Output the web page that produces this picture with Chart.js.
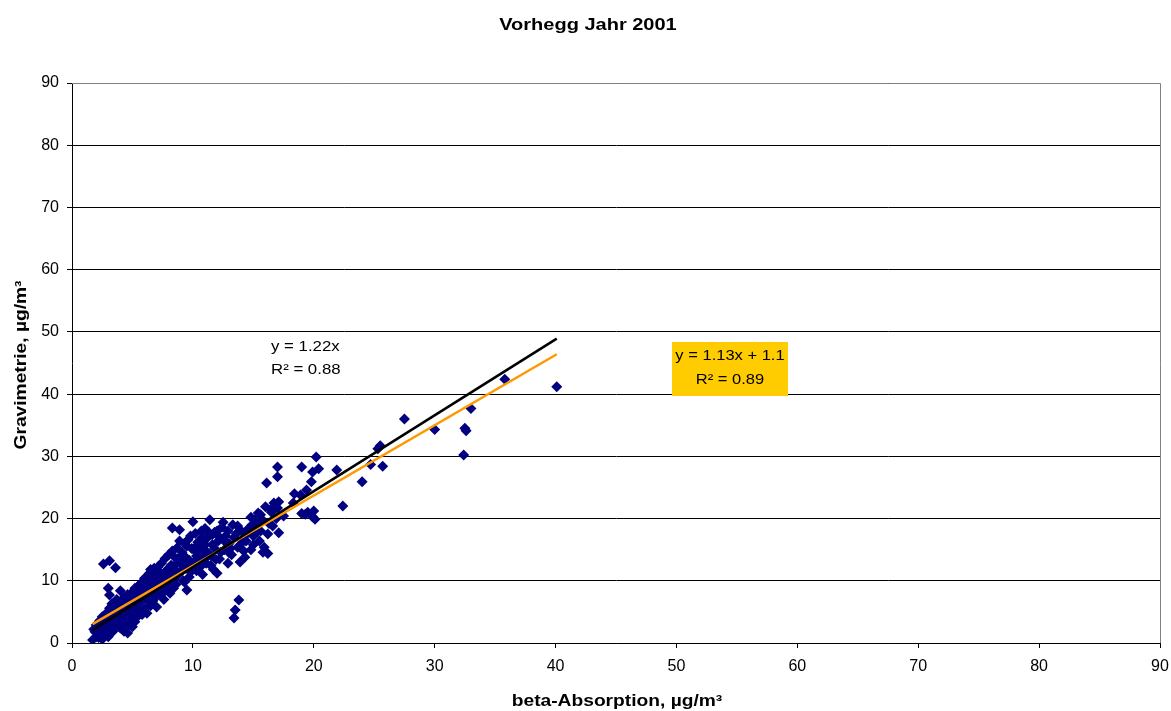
<!DOCTYPE html>
<html>
<head>
<meta charset="utf-8">
<script src="https://cdn.jsdelivr.net/npm/chart.js@4/dist/chart.umd.min.js"></script>
<style>
  html, body { margin: 0; padding: 0; background: #fff; }
  #wrap { width: 1171px; height: 711px; }
</style>
</head>
<body>
<div id="wrap"><canvas id="chart" width="1171" height="711"></canvas></div>
<script>
const chartTitle = "Vorhegg Jahr 2001";
const xTitle = "beta-Absorption, µg/m³";
const yTitle = "Gravimetrie, µg/m³";

// beta-Absorption (x) / Gravimetrie (y)
const betaAbs = [
  1.7, 2.0, 1.9, 2.2, 2.4, 2.1, 2.6, 2.3, 2.8, 2.5, 3.0, 2.7, 3.2, 2.9, 3.3, 3.1, 2.6, 3.1, 3.6, 3.0,
  3.1, 2.0, 1.8, 2.2, 3.4, 3.5, 3.6, 3.8, 3.9, 4.0, 4.1, 4.2, 4.3, 4.4, 4.6, 4.7, 4.5, 4.8, 4.9, 5.0,
  3.7, 3.3, 4.0, 4.4, 5.1, 5.2, 5.3, 5.4, 5.5, 5.6, 5.8, 5.9, 6.0, 6.1, 6.2, 6.3, 6.4, 6.5, 6.6, 6.7,
  6.8, 6.9, 7.0, 7.1, 7.2, 7.3, 7.4, 7.5, 7.6, 7.7, 7.8, 7.9, 8.0, 8.1, 8.2, 8.3, 8.4, 8.5, 8.6, 8.7,
  8.8, 8.9, 9.0, 9.1, 9.2, 9.3, 9.4, 9.5, 9.6, 9.7, 9.8, 9.9, 10.0, 10.1, 10.2, 10.3, 10.4, 10.5, 10.6, 10.7,
  10.8, 10.9, 11.0, 11.1, 11.2, 11.4, 11.5, 11.6, 11.7, 11.8, 12.0, 12.1, 12.2, 12.4, 12.5, 12.6, 12.7, 12.9, 13.0, 13.2,
  13.3, 13.4, 13.5, 13.8, 13.9, 13.6, 13.7, 14.0, 14.2, 14.4, 14.6, 14.8, 15.0, 15.2, 15.3, 15.4, 15.5, 15.6, 15.8, 16.0,
  16.1, 16.2, 16.3, 16.4, 16.2, 16.6, 17.0, 17.0, 17.1, 17.1, 17.5, 18.3, 18.9, 19.0, 19.3, 19.4, 19.8, 19.9, 20.0, 20.1,
  20.2, 20.4, 21.9, 22.4, 24.0, 24.7, 25.3, 25.5, 25.7, 27.5, 30.0, 32.4, 32.5, 32.6, 33.0, 35.8, 40.1,
  5.7, 6.0, 6.3, 6.6, 7.0, 7.3, 7.6, 7.9, 8.2, 8.5, 8.8, 9.1, 9.4, 9.7, 10.0, 10.3, 10.6, 10.9, 11.2, 11.5,
  11.8, 12.3, 5.2, 4.6, 4.2, 3.8, 3.4, 2.9, 2.4, 2.1, 3.6, 5.0, 5.5, 6.8, 7.2, 8.0, 8.6, 9.0, 4.8, 5.6,
  6.4, 7.8, 9.6, 10.2, 10.5, 11.0, 12.0, 14.8, 15.8, 16.5, 16.7, 17.0, 18.4, 19.0, 19.5, 19.9, 16.9, 15.0, 13.0, 14.3,
  2.3, 2.6, 2.9, 3.2, 3.5, 3.9, 4.1, 4.5, 4.8, 5.1, 5.4, 5.7, 6.0, 6.2, 6.5, 6.9, 7.1, 7.4, 7.7, 8.0,
  8.3, 8.6, 8.9, 9.2, 9.5, 9.8, 10.1, 10.4, 10.7, 11.0, 11.3, 11.6, 11.9, 12.2, 12.6, 12.9, 13.1, 13.4, 13.7, 14.1,
  14.5, 14.9, 15.3, 15.6, 15.9, 4.3, 5.0, 5.3, 3.0, 2.5, 6.7, 7.5, 8.4, 9.3, 10.8
];
const gravi = [
  0.5, 1.0, 1.8, 2.4, 1.6, 3.1, 2.0, 3.6, 2.7, 4.2, 3.3, 1.4, 2.2, 4.9, 3.8, 5.6, 12.7, 13.2, 12.1, 8.8,
  7.7, 2.9, 2.2, 0.9, 1.9, 2.8, 4.5, 3.2, 6.1, 2.4, 5.2, 3.8, 7.3, 4.6, 1.6, 2.9, 6.4, 5.5, 8.0, 4.2,
  7.0, 6.3, 8.4, 3.1, 6.9, 3.4, 7.8, 5.6, 9.2, 6.5, 4.6, 8.3, 10.4, 7.2, 4.8, 9.0, 11.2, 6.0, 8.2, 10.1,
  12.0, 7.4, 5.8, 9.6, 11.5, 8.6, 12.8, 10.5, 7.0, 13.6, 9.0, 11.8, 14.2, 8.0, 12.5, 18.5, 10.2, 13.8, 9.4, 15.3,
  11.0, 18.2, 12.7, 14.6, 10.0, 16.0, 12.0, 8.5, 16.6, 13.3, 11.4, 15.2, 19.5, 13.0, 14.8, 11.6, 16.2, 13.8, 15.6, 12.4,
  17.0, 14.3, 15.8, 12.8, 16.9, 19.8, 14.0, 17.4, 11.8, 15.2, 11.2, 16.4, 13.5, 18.6, 19.4, 15.0, 17.2, 12.8, 16.0, 14.2,
  19.0, 4.0, 5.3, 6.9, 13.0, 17.6, 15.4, 18.0, 14.8, 16.4, 18.4, 15.0, 17.2, 19.4, 20.1, 20.9, 16.4, 18.0, 14.6, 21.9,
  25.7, 17.5, 19.2, 21.4, 14.4, 18.8, 28.3, 26.7, 22.7, 17.7, 20.4, 22.5, 23.8, 28.3, 20.7, 24.6, 25.9, 27.5, 21.2, 19.9,
  29.9, 28.0, 27.8, 22.0, 25.9, 28.7, 31.2, 31.7, 28.4, 36.0, 34.3, 30.2, 34.5, 34.1, 37.7, 42.4, 41.2,
  7.6, 8.8, 6.8, 9.8, 8.4, 10.6, 11.2, 9.6, 10.8, 11.8, 13.2, 11.6, 13.8, 10.6, 12.2, 14.0, 13.2, 16.0, 14.6, 12.4,
  17.8, 14.6, 8.8, 7.8, 6.2, 5.0, 4.4, 3.9, 2.8, 2.0, 3.6, 5.9, 7.3, 9.0, 7.8, 9.8, 12.6, 14.0, 3.6, 5.0,
  7.9, 10.2, 12.6, 17.6, 15.0, 18.4, 18.0, 20.2, 19.7, 21.0, 22.5, 21.7, 24.0, 20.8, 21.0, 20.3, 20.0, 15.8, 14.5, 13.8,
  1.2, 3.0, 2.0, 4.6, 5.4, 4.0, 3.0, 5.0, 6.8, 4.8, 8.2, 9.6, 5.6, 9.9, 11.8, 10.8, 12.2, 9.4, 8.4, 12.0,
  14.8, 11.0, 16.4, 13.0, 15.6, 17.2, 15.2, 12.8, 18.0, 13.6, 17.8, 15.8, 13.4, 17.0, 16.4, 18.0, 15.2, 17.0, 18.8, 16.2,
  17.6, 19.0, 17.8, 20.6, 15.4, 1.9, 2.6, 4.0, 1.0, 0.6, 6.8, 8.2, 8.8, 9.8, 11.0
];

// trend lines: through origin (black) and linear fit (orange)
const trendX = [1.7, 40.1];
const slopeOrigin = 1.22;
const slopeFit = 1.13;
const interceptFit = 1.1;

const points = betaAbs.map((x, i) => ({ x: x, y: gravi[i] }));
const lineOrigin = trendX.map(x => ({ x: x, y: slopeOrigin * x }));
const lineFit = trendX.map(x => ({ x: x, y: slopeFit * x + interceptFit }));

const FONT = "'Liberation Sans', Arial, sans-serif";

// the source text is set a bit wider than normal, so stretch it sideways
function wideText(ctx, text, x, y, stretch, rotate) {
  ctx.save();
  ctx.translate(x, y);
  if (rotate) ctx.rotate(-Math.PI / 2);
  ctx.scale(stretch, 1);
  ctx.fillText(text, 0, 0);
  ctx.restore();
}

// grey frame on top and right of the plot area
const plotFrame = {
  id: "plotFrame",
  beforeDatasetsDraw(chart) {
    const a = chart.chartArea;
    const ctx = chart.ctx;
    ctx.save();
    ctx.strokeStyle = "#808080";
    ctx.lineWidth = 1;
    ctx.beginPath();
    ctx.moveTo(a.left, a.top + 0.5);
    ctx.lineTo(a.right + 0.5, a.top + 0.5);
    ctx.lineTo(a.right + 0.5, a.bottom);
    ctx.stroke();
    ctx.restore();
  }
};

const decorations = {
  id: "decorations",
  afterDraw(chart) {
    const ctx = chart.ctx;
    ctx.save();
    ctx.fillStyle = "#000";
    ctx.textBaseline = "middle";
    ctx.textAlign = "center";
    ctx.font = "bold 16px " + FONT;
    wideText(ctx, chartTitle, 588, 26, 1.25, false);

    ctx.font = "bold 16px " + FONT;
    wideText(ctx, xTitle, 617, 702, 1.2, false);
    wideText(ctx, yTitle, 22, 365, 1.2, true);

    // equation of the origin trend line
    ctx.font = "14px " + FONT;
    ctx.textAlign = "left";
    wideText(ctx, "y = 1.22x", 271, 347, 1.2, false);
    wideText(ctx, "R² = 0.88", 271, 370, 1.2, false);

    // equation box of the fitted line
    ctx.fillStyle = "#FFCC00";
    ctx.fillRect(672, 342, 116, 54);
    ctx.fillStyle = "#000";
    ctx.textAlign = "center";
    wideText(ctx, "y = 1.13x + 1.1", 730, 356, 1.18, false);
    wideText(ctx, "R² = 0.89", 730, 380, 1.18, false);
    ctx.restore();
  }
};

new Chart(document.getElementById("chart"), {
  type: "scatter",
  data: {
    datasets: [
      {
        label: "Messwerte",
        data: points,
        pointStyle: "rectRot",
        pointRadius: 5.5,
        pointBackgroundColor: "#000080",
        pointBorderColor: "#000080",
        pointBorderWidth: 0,
        order: 3
      },
      {
        label: "Linear durch Null",
        data: lineOrigin,
        showLine: true,
        borderColor: "#000000",
        borderWidth: 2.5,
        pointRadius: 0,
        order: 1
      },
      {
        label: "Linear",
        data: lineFit,
        showLine: true,
        borderColor: "#FF9900",
        borderWidth: 2.5,
        pointRadius: 0,
        order: 2
      }
    ]
  },
  options: {
    responsive: false,
    animation: false,
    layout: { padding: { top: 83, right: 11, left: 0, bottom: 0 } },
    plugins: {
      legend: { display: false },
      title: { display: false },
      tooltip: { enabled: false }
    },
    scales: {
      x: {
        type: "linear",
        min: 0,
        max: 90,
        ticks: { stepSize: 10, color: "#000", font: { family: FONT, size: 16 }, padding: 9, maxRotation: 0 },
        grid: { drawOnChartArea: false, drawTicks: true, tickLength: 5, color: "#000" },
        border: { color: "#000", width: 1 },
        afterFit(scale) {
          scale.height = 68;
          scale.paddingLeft = 0;
          scale.paddingRight = 0;
        }
      },
      y: {
        type: "linear",
        min: 0,
        max: 90,
        ticks: { stepSize: 10, color: "#000", font: { family: FONT, size: 16 }, padding: 8 },
        grid: { color: "#000", lineWidth: 1, tickLength: 5 },
        border: { color: "#000", width: 1 },
        afterFit(scale) {
          scale.width = 72;
          scale.paddingTop = 0;
          scale.paddingBottom = 0;
        }
      }
    }
  },
  plugins: [plotFrame, decorations]
});
</script>
</body>
</html>
